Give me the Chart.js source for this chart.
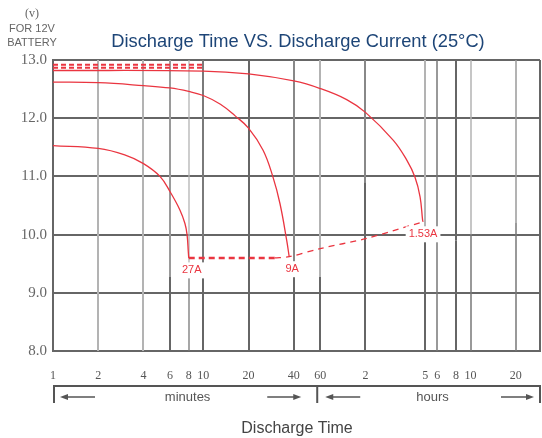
<!DOCTYPE html>
<html>
<head>
<meta charset="utf-8">
<script src="https://cdn.jsdelivr.net/npm/chart.js@4/dist/chart.umd.min.js"></script>
<style>
  html, body { margin: 0; padding: 0; background: #fff; }
  canvas { display: block; }
</style>
</head>
<body>
<canvas id="chart" width="542" height="438"></canvas>
<script>
// Discharge time (minutes, log axis) vs terminal voltage
const tickValues = [1, 2, 4, 6, 8, 10, 20, 40, 60, 120, 300, 360, 480, 600, 1200, 1740];
const tickLabels = ['1', '2', '4', '6', '8', '10', '20', '40', '60', '2', '5', '6', '8', '10', '20', ''];
const yTicks = [8, 9, 10, 11, 12, 13];

const curve27A = [[1, 11.53], [2, 11.48], [3, 11.37], [4, 11.22], [5.15, 11.0], [6, 10.74], [7, 10.42], [7.55, 10.19], [7.8, 10.0], [7.95, 9.7], [8.0, 9.6]];
const curve9A = [[1, 12.62], [2, 12.61], [4, 12.56], [6, 12.52], [8, 12.46], [10, 12.39], [13, 12.24], [16.3, 12.04], [20, 11.83], [25, 11.45], [29, 11.0], [32.4, 10.53], [35.9, 9.9], [37.3, 9.62]];
const curve153A = [[1, 12.82], [10, 12.81], [20, 12.76], [40, 12.64], [60, 12.51], [90, 12.32], [120, 12.1], [184, 11.62], [226, 11.28], [256, 10.99], [277, 10.65], [288, 10.25], [290, 10.22]];
const topDashA = [[1, 12.92], [10, 12.92]];
const topDashB = [[1, 12.865], [10, 12.865]];
const endLineThick = [[8, 9.6], [30, 9.6]];
const endLineThin = [[30, 9.6], [37.3, 9.62], [60, 9.76], [120, 9.93], [290, 10.22]];
const currentLabels = ['27A', '9A', '1.53A'];

const RED = '#ea3540';
const pts = arr => arr.map(p => ({ x: p[0], y: p[1] }));

// vertical grid look: [upper colour, lower colour, width, voltage where lower part starts]
const vGridStyle = {
  1: ['#666', '#666', 2, 9.27],
  2: ['#b3b3b3', '#b3b3b3', 2, 9.27],
  4: ['#b3b3b3', '#b3b3b3', 2, 9.27],
  6: ['#9a9a9a', '#666', 2, 9.27],
  8: ['#b3b3b3', '#777', 1.3, 9.27],
  10: ['#7a7a7a', '#666', 2, 9.27],
  20: ['#666', '#666', 2, 9.27],
  40: ['#888', '#666', 2, 9.27],
  60: ['#b3b3b3', '#666', 2, 9.27],
  120: ['#888', '#666', 2, 10.9],
  300: ['#b3b3b3', '#666', 2, 9.9],
  360: ['#777', '#777', 1.5, 9.9],
  480: ['#666', '#666', 2, 9.9],
  600: ['#b3b3b3', '#777', 1.5, 10.0],
  1200: ['#9a9a9a', '#777', 1.5, 10.2],
  1740: ['#666', '#666', 2, 9.27]
};

const vGridPlugin = {
  id: 'vGrid',
  beforeDatasetsDraw(chart) {
    const { ctx, chartArea, scales: { x, y } } = chart;
    ctx.save();
    tickValues.forEach(v => {
      const st = vGridStyle[v];
      const px = Math.round(x.getPixelForValue(v));
      const split = y.getPixelForValue(st[3]);
      ctx.lineWidth = st[2];
      ctx.strokeStyle = st[0];
      ctx.beginPath();
      ctx.moveTo(px, chartArea.top);
      ctx.lineTo(px, split);
      ctx.stroke();
      ctx.strokeStyle = st[1];
      ctx.beginPath();
      ctx.moveTo(px, split);
      ctx.lineTo(px, chartArea.bottom);
      ctx.stroke();
    });
    ctx.restore();
  }
};

function arrow(ctx, x1, x2, y) {
  // arrow pointing from x1 towards x2
  const dir = Math.sign(x2 - x1);
  ctx.beginPath();
  ctx.moveTo(x1, y);
  ctx.lineTo(x2 - dir * 6, y);
  ctx.stroke();
  ctx.beginPath();
  ctx.moveTo(x2, y);
  ctx.lineTo(x2 - dir * 8, y - 3);
  ctx.lineTo(x2 - dir * 8, y + 3);
  ctx.closePath();
  ctx.fill();
}

const decorPlugin = {
  id: 'decor',
  afterDraw(chart) {
    const { ctx, chartArea, scales: { x, y } } = chart;
    ctx.save();

    // title
    ctx.fillStyle = '#1d4577';
    ctx.font = '18.3px "Liberation Sans", Arial, sans-serif';
    ctx.textAlign = 'center';
    ctx.textBaseline = 'middle';
    ctx.fillText('Discharge Time VS. Discharge Current (25\u00B0C)', 298, 42);

    // unit note top-left
    ctx.fillStyle = '#666';
    ctx.font = '12px "Liberation Serif", serif';
    ctx.fillText('(v)', 32, 14);
    ctx.font = '11px "Liberation Sans", Arial, sans-serif';
    ctx.fillText('FOR 12V', 32, 29);
    ctx.fillText('BATTERY', 32, 43);

    // current labels at the end of each curve
    const ends = [curve27A[curve27A.length - 1], curve9A[curve9A.length - 1], curve153A[curve153A.length - 1]];
    ctx.font = '11px "Liberation Sans", Arial, sans-serif';
    ends.forEach((p, i) => {
      const px = x.getPixelForValue(p[0]) + (i < 2 ? 3 : 0);
      const py = y.getPixelForValue(p[1]) + 12.5;
      const w = ctx.measureText(currentLabels[i]).width + 6;
      ctx.fillStyle = '#fff';
      ctx.fillRect(px - w / 2, py - 8, w, 16);
      ctx.fillStyle = RED;
      ctx.fillText(currentLabels[i], px, py);
    });

    // minutes / hours bracket
    const left = chartArea.left + 1;
    const right = chartArea.right;
    const mid = x.getPixelForValue(60) - 3;
    const by = 386, bb = 403, ay = 397;
    ctx.strokeStyle = '#555';
    ctx.fillStyle = '#555';
    ctx.lineWidth = 2;
    ctx.beginPath();
    ctx.moveTo(left, bb); ctx.lineTo(left, by); ctx.lineTo(right, by); ctx.lineTo(right, bb);
    ctx.moveTo(mid, by); ctx.lineTo(mid, bb);
    ctx.stroke();
    ctx.lineWidth = 1.5;
    arrow(ctx, left + 41, left + 6, ay);
    arrow(ctx, mid - 50, mid - 16, ay);
    arrow(ctx, mid + 43, mid + 8, ay);
    arrow(ctx, right - 39, right - 6, ay);

    ctx.font = '13px "Liberation Sans", Arial, sans-serif';
    ctx.fillText('minutes', (left + mid) / 2 + 2, ay);
    ctx.fillText('hours', (mid + right) / 2 + 4, ay);

    ctx.fillStyle = '#444';
    ctx.font = '16px "Liberation Sans", Arial, sans-serif';
    ctx.fillText('Discharge Time', 297, 429);
    ctx.restore();
  }
};

const ctx = document.getElementById('chart').getContext('2d');
new Chart(ctx, {
  type: 'line',
  data: {
    datasets: [
      { data: pts(topDashA), borderColor: RED, borderWidth: 2, borderDash: [5, 3], tension: 0 },
      { data: pts(topDashB), borderColor: RED, borderWidth: 2, borderDash: [5, 3], tension: 0 },
      { data: pts(curve153A), borderColor: RED, borderWidth: 1.3, tension: 0.4 },
      { data: pts(curve9A), borderColor: RED, borderWidth: 1.3, tension: 0.4 },
      { data: pts(curve27A), borderColor: RED, borderWidth: 1.3, tension: 0.4 },
      { data: pts(endLineThick), borderColor: RED, borderWidth: 2.5, borderDash: [6, 4], tension: 0 },
      { data: pts(endLineThin), borderColor: RED, borderWidth: 1.3, borderDash: [6, 5], tension: 0.3 }
    ]
  },
  options: {
    responsive: false,
    animation: false,
    events: [],
    layout: { padding: { top: 60, right: 2, left: 0, bottom: 0 } },
    elements: { point: { radius: 0 }, line: { fill: false } },
    plugins: { legend: { display: false }, tooltip: { enabled: false }, title: { display: false } },
    scales: {
      x: {
        type: 'logarithmic',
        min: 1,
        max: 1740,
        afterBuildTicks: s => { s.ticks = tickValues.map(v => ({ value: v })); },
        afterFit: s => { s.height = 87; s.paddingLeft = 0; s.paddingRight = 0; },
        grid: { display: false },
        border: { display: true, color: '#666', width: 2 },
        ticks: {
          autoSkip: false,
          maxRotation: 0,
          padding: 10,
          color: '#555',
          font: { family: '"Liberation Serif", serif', size: 12 },
          callback: (v, i) => tickLabels[i]
        }
      },
      y: {
        min: 8,
        max: 13,
        afterBuildTicks: s => { s.ticks = yTicks.map(v => ({ value: v })); },
        afterFit: s => { s.width = 53; s.paddingTop = 0; s.paddingBottom = 0; },
        grid: { color: '#666', lineWidth: 2, drawTicks: false },
        border: { color: '#666', width: 2 },
        ticks: {
          padding: 6,
          color: '#666',
          font: { family: '"Liberation Serif", serif', size: 15 },
          callback: v => v.toFixed(1)
        }
      }
    }
  },
  plugins: [vGridPlugin, decorPlugin]
});
</script>
</body>
</html>
